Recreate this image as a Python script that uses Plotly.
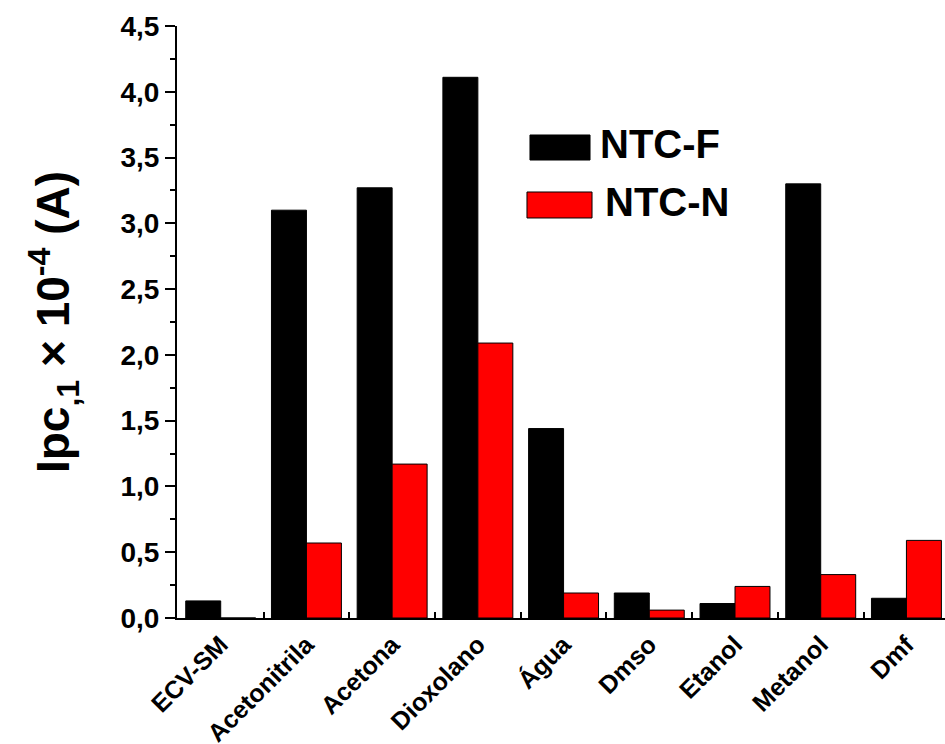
import plotly.graph_objects as go

# Solvent categories and peak cathodic current (x 10^-4 A) for each electrode
solvents = ["ECV-SM", "Acetonitrila", "Acetona", "Dioxolano", "Água",
            "Dmso", "Etanol", "Metanol", "Dmf"]
ntc_f = [0.13, 3.10, 3.27, 4.11, 1.44, 0.19, 0.11, 3.30, 0.15]
ntc_n = [0.0, 0.57, 1.17, 2.09, 0.19, 0.06, 0.24, 0.33, 0.59]

series_names = ["NTC-F", "NTC-N"]
y_ticks = [0.0, 0.5, 1.0, 1.5, 2.0, 2.5, 3.0, 3.5, 4.0, 4.5]

FONT = "Liberation Sans, Arial, sans-serif"
colors = ["#000000", "#ff0000"]

fig = go.Figure()
for name, vals, col in zip(series_names, [ntc_f, ntc_n], colors):
    fig.add_trace(go.Bar(
        x=solvents, y=vals, name=name,
        marker=dict(color=col, line=dict(color="#000000", width=1)),
        showlegend=False,
    ))

# Legend drawn as large swatches with bold labels inside the plot area
legend_boxes = [
    dict(x0=0.4596, x1=0.5378, y0=0.7736, y1=0.8159),
    dict(x0=0.4557, x1=0.5404, y0=0.6757, y1=0.7196),
]
legend_text = [(0.5480, 0.801), (0.5545, 0.702)]
for box, col, name, (tx, ty) in zip(legend_boxes, colors, series_names, legend_text):
    fig.add_shape(type="rect", xref="paper", yref="paper",
                  fillcolor=col, line=dict(color="#000000", width=1), **box)
    fig.add_annotation(xref="paper", yref="paper", x=tx, y=ty,
                       xanchor="left", yanchor="middle", showarrow=False,
                       text=name,
                       font=dict(family=FONT, size=40, color="#000000", weight="bold"))

fig.update_layout(
    width=945, height=744,
    margin=dict(l=177, r=0, t=26, b=126),
    paper_bgcolor="white", plot_bgcolor="white",
    barmode="group", bargap=0.184, bargroupgap=0,
    separators=",.",
    font=dict(family=FONT, color="#000000"),
)

fig.update_xaxes(
    range=[-0.51, 8.45], automargin=False,
    showline=True, linecolor="#000000", linewidth=2,
    ticks="inside", tickson="boundaries", ticklen=6, tickwidth=2, tickcolor="#000000",
    tickangle=-45,
    tickfont=dict(family=FONT, size=25, color="#000000", weight="bold"),
    showgrid=False, zeroline=False,
)

fig.update_yaxes(
    range=[0, 4.5], automargin=False,
    tickvals=y_ticks, tickformat=".1f",
    showline=True, linecolor="#000000", linewidth=2,
    ticks="outside", ticklen=10, tickwidth=2, tickcolor="#000000",
    minor=dict(ticks="outside", ticklen=5, tickwidth=2, tickcolor="#000000", dtick=0.25),
    tickfont=dict(family=FONT, size=28, color="#000000", weight="bold"),
    showgrid=False, zeroline=False,
    title=dict(text="Ipc<sub>,1</sub> × 10<sup>-4</sup> (A)",
               font=dict(family=FONT, size=46, color="#000000", weight="bold"),
               standoff=36),
)

fig.write_html("out.html")
